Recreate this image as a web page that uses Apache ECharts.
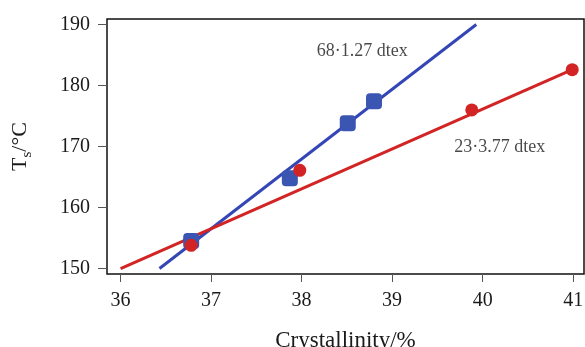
<!DOCTYPE html>
<html>
<head>
<meta charset="utf-8">
<script src="https://cdn.jsdelivr.net/npm/echarts@6/dist/echarts.min.js"></script>
<style>
  html, body { margin: 0; padding: 0; background: #fff; }
  #chart { width: 585px; height: 347px; }
</style>
</head>
<body>
<div id="chart"></div>
<script>
// fitted lines (end points) and measured points
const fineFit = [[36.43, 150.0], [39.93, 190.0]];
const finePts = [[36.78, 154.5], [37.87, 164.8], [38.51, 173.8], [38.80, 177.4]];
const coarseFit = [[36.0, 150.0], [40.99, 182.6]];
const coarsePts = [[36.78, 153.8], [37.98, 166.1], [39.88, 176.0], [40.99, 182.6]];
const xTicks = [36, 37, 38, 39, 40, 41];
const yTicks = [150, 160, 170, 180, 190];
const notes = [
    {value: [38.67, 185.6], text: '68·1.27 dtex'},
    {value: [40.19, 169.9], text: '23·3.77 dtex'}
];

const blue = '#3446b6';
const red = '#d22424';
const font = '"Liberation Serif", "DejaVu Serif", serif';

const chart = echarts.init(document.getElementById('chart'));
chart.setOption({
    animation: false,
    textStyle: {fontFamily: font},
    grid: {
        left: 107, top: 19, right: 1, bottom: 73,
        containLabel: false, outerBoundsMode: 'none',
        show: true, borderColor: '#111', borderWidth: 1.5
    },
    xAxis: {
        type: 'value', min: 35.85, max: 41.12,
        axisLine: {show: false},
        axisTick: {show: true, customValues: xTicks, length: 8, lineStyle: {color: '#555'}},
        axisLabel: {customValues: xTicks, color: '#1a1a1a', fontSize: 20, fontFamily: font, margin: 17},
        splitLine: {show: false},
        name: 'Crystallinity/%', nameLocation: 'middle', nameGap: 55,
        nameTextStyle: {color: '#1a1a1a', fontSize: 23, fontFamily: font}
    },
    yAxis: {
        type: 'value', min: 149.1, max: 190.9,
        axisLine: {show: false},
        axisTick: {show: true, customValues: yTicks, length: 9, lineStyle: {color: '#555'}},
        axisLabel: {customValues: yTicks, color: '#1a1a1a', fontSize: 20, fontFamily: font, margin: 17},
        splitLine: {show: false},
        name: '{a|T}{b|s}{a|/°C}', nameLocation: 'middle', nameGap: 72,
        nameTextStyle: {
            rich: {
                a: {fontSize: 22, fontFamily: font, color: '#1a1a1a'},
                b: {fontSize: 15, fontFamily: font, color: '#1a1a1a', padding: [14, 0, 0, 0]}
            }
        }
    },
    series: [
        {
            type: 'line', data: fineFit, symbol: 'none',
            lineStyle: {color: blue, width: 3}, z: 2
        },
        {
            type: 'line', data: coarseFit, symbol: 'none',
            lineStyle: {color: red, width: 3}, z: 2
        },
        {
            type: 'scatter', data: finePts, symbol: 'roundRect', symbolSize: 16,
            itemStyle: {color: '#3b55b3', opacity: 1}, z: 3
        },
        {
            type: 'scatter', data: coarsePts, symbol: 'circle', symbolSize: 13,
            itemStyle: {color: red, opacity: 1}, z: 4
        },
        {
            type: 'scatter', data: notes.map(n => ({value: n.value, name: n.text})),
            symbolSize: 0, silent: true,
            label: {
                show: true, position: 'inside', formatter: p => p.name,
                color: '#1a1a1a', fontSize: 18, fontFamily: font
            }
        }
    ]
});
</script>
</body>
</html>
